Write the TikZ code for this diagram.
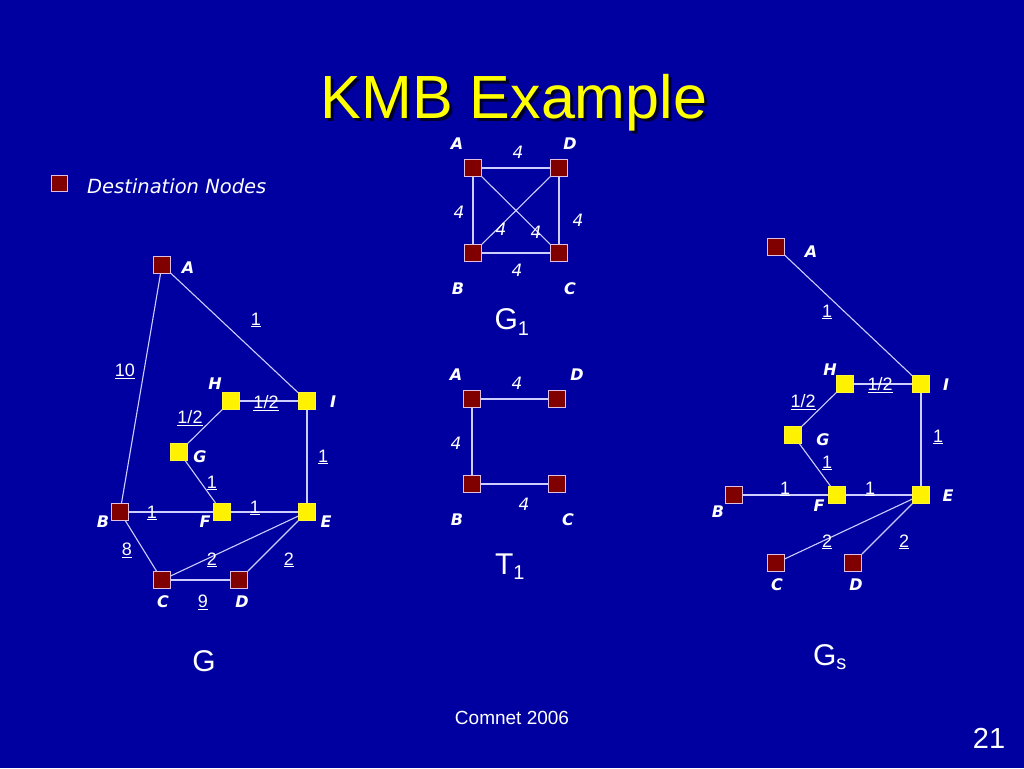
\documentclass[tikz,border=0pt]{standalone}
\usepackage{fontspec}
\setmainfont{Liberation Sans}
\newfontfamily\tahomalike{DejaVu Sans}
\begin{document}
\begin{tikzpicture}[x=1pt,y=-1pt,
  dest/.style={rectangle,fill=destred,draw=destborder,line width=0.8pt,minimum size=17pt,inner sep=0pt},
  stein/.style={rectangle,fill=yellow,draw=yellow!80!white,line width=0.5pt,minimum size=17pt,inner sep=0pt},
  link/.style={draw=edgecol,line width=1.1pt},
  nlab/.style={text=white,font=\tahomalike\fontsize{16}{16}\selectfont\bfseries\itshape,inner sep=0pt},
  wlab/.style={text=white,font=\fontsize{18}{18}\selectfont,inner sep=0pt},
  ilab/.style={text=white,font=\tahomalike\fontsize{17}{17}\selectfont\itshape,inner sep=0pt},
  glab/.style={text=white,font=\fontsize{30}{30}\selectfont,inner sep=0pt}]
\definecolor{bg}{RGB}{0,0,160}
\definecolor{destred}{RGB}{128,0,0}
\definecolor{destborder}{RGB}{225,190,225}
\definecolor{edgecol}{RGB}{205,205,255}
\definecolor{titley}{RGB}{255,255,0}
\fill[bg] (0,0) rectangle (1024,768);
\useasboundingbox (0,0) rectangle (1024,768);

% title
\node[text=black!70!bg,font=\fontsize{61}{61}\selectfont,anchor=base,inner sep=0pt] (tshadow) at (517,121) {KMB Example};
\node[text=titley,font=\fontsize{61}{61}\selectfont,anchor=base,inner sep=0pt] (title) at (514,118) {KMB Example};

% legend
\node[dest,minimum size=16pt] (legsq) at (59,183) {};
\node[text=white,font=\tahomalike\fontsize{19.5}{19.5}\selectfont\itshape,anchor=base west,inner sep=0pt] (legtext) at (87,193) {Destination Nodes};

% ---------- Graph G ----------
\node[dest] (gA) at (162,265) {};
\node[stein] (gH) at (231,401) {};
\node[stein] (gI) at (307,401) {};
\node[stein] (gG) at (179,452) {};
\node[dest] (gB) at (120,512) {};
\node[stein] (gF) at (222,512) {};
\node[stein] (gE) at (307,512) {};
\node[dest] (gC) at (162,580) {};
\node[dest] (gD) at (239,580) {};
\draw[link] (gA) -- (gB);
\draw[link] (gA) -- (gI);
\draw[link] (gH) -- (gI);
\draw[link] (gH) -- (gG);
\draw[link] (gG) -- (gF);
\draw[link] (gB) -- (gF);
\draw[link] (gF) -- (gE);
\draw[link] (gI) -- (gE);
\draw[link] (gB) -- (gC);
\draw[link] (gC) -- (gE);
\draw[link] (gE) -- (gD);
\draw[link] (gC) -- (gD);
\node[nlab] (gAl) at (188,268) {A};
\node[nlab] (gHl) at (215,384) {H};
\node[nlab] (gIl) at (333,402) {I};
\node[nlab] (gGl) at (200,457) {G};
\node[nlab] (gBl) at (103,522) {B};
\node[nlab] (gFl) at (205,522) {F};
\node[nlab] (gEl) at (326,522) {E};
\node[nlab] (gCl) at (163,602) {C};
\node[nlab] (gDl) at (242,602) {D};
\node[wlab] (g10) at (125,371) {\underline{10}};
\node[wlab] (gAI) at (256,320) {\underline{1}};
\node[wlab] (gHI) at (266,403) {\underline{1/2}};
\node[wlab] (gHG) at (190,418) {\underline{1/2}};
\node[wlab] (gGF) at (212,483) {\underline{1}};
\node[wlab] (gBF) at (152,513) {\underline{1}};
\node[wlab] (gFE) at (255,508) {\underline{1}};
\node[wlab] (gIE) at (323,457) {\underline{1}};
\node[wlab] (gBC) at (127,550) {\underline{8}};
\node[wlab] (gCE) at (212,560) {\underline{2}};
\node[wlab] (gED) at (289,560) {\underline{2}};
\node[wlab] (gCD) at (203,602) {\underline{9}};
\node[glab] (gname) at (204,661) {G};

% ---------- G1 ----------
\node[dest] (aA) at (473,168) {};
\node[dest] (aD) at (559,168) {};
\node[dest] (aB) at (473,253) {};
\node[dest] (aC) at (559,253) {};
\draw[link] (aA) -- (aD);
\draw[link] (aA) -- (aB);
\draw[link] (aD) -- (aC);
\draw[link] (aB) -- (aC);
\draw[link] (aA) -- (aC);
\draw[link] (aD) -- (aB);
\node[nlab] (aAl) at (457,144) {A};
\node[nlab] (aDl) at (570,144) {D};
\node[nlab] (aBl) at (458,289) {B};
\node[nlab] (aCl) at (570,289) {C};
\node[ilab] (aAD) at (518,152) {4};
\node[ilab] (aAB) at (459,212) {4};
\node[ilab] (aDC) at (578,220) {4};
\node[ilab] (aBC) at (517,270) {4};
\node[ilab] (aDB) at (501,229) {4};
\node[ilab] (aAC) at (536,232) {4};
\node[glab] (aname) at (512,322) {G\textsubscript{\fontsize{20}{20}\selectfont 1}};

% ---------- T1 ----------
\node[dest] (tA) at (472,399) {};
\node[dest] (tD) at (557,399) {};
\node[dest] (tB) at (472,484) {};
\node[dest] (tC) at (557,484) {};
\draw[link] (tA) -- (tD);
\draw[link] (tA) -- (tB);
\draw[link] (tB) -- (tC);
\node[nlab] (tAl) at (456,375) {A};
\node[nlab] (tDl) at (577,375) {D};
\node[nlab] (tBl) at (457,520) {B};
\node[nlab] (tCl) at (568,520) {C};
\node[ilab] (tAD) at (517,383) {4};
\node[ilab] (tAB) at (456,443) {4};
\node[ilab] (tBC) at (524,504) {4};
\node[glab] (tname) at (510,567) {T\textsubscript{\fontsize{20}{20}\selectfont 1}};

% ---------- Gs ----------
\node[dest] (sA) at (776,247) {};
\node[stein] (sH) at (845,384) {};
\node[stein] (sI) at (921,384) {};
\node[stein] (sG) at (793,435) {};
\node[dest] (sB) at (734,495) {};
\node[stein] (sF) at (837,495) {};
\node[stein] (sE) at (921,495) {};
\node[dest] (sC) at (776,563) {};
\node[dest] (sD) at (853,563) {};
\draw[link] (sA) -- (sI);
\draw[link] (sH) -- (sI);
\draw[link] (sH) -- (sG);
\draw[link] (sI) -- (sE);
\draw[link] (sG) -- (sF);
\draw[link] (sB) -- (sF);
\draw[link] (sF) -- (sE);
\draw[link] (sE) -- (sC);
\draw[link] (sE) -- (sD);
\node[nlab] (sAl) at (811,252) {A};
\node[nlab] (sHl) at (830,370) {H};
\node[nlab] (sIl) at (946,385) {I};
\node[nlab] (sGl) at (823,440) {G};
\node[nlab] (sBl) at (718,512) {B};
\node[nlab] (sFl) at (819,506) {F};
\node[nlab] (sEl) at (948,496) {E};
\node[nlab] (sCl) at (777,585) {C};
\node[nlab] (sDl) at (856,585) {D};
\node[wlab] (sAI) at (827,312) {\underline{1}};
\node[wlab] (sHI) at (880,385) {\underline{1/2}};
\node[wlab] (sHG) at (803,402) {\underline{1/2}};
\node[wlab] (sIE) at (938,437) {\underline{1}};
\node[wlab] (sGF) at (827,463) {\underline{1}};
\node[wlab] (sBF) at (785,489) {\underline{1}};
\node[wlab] (sFE) at (870,489) {\underline{1}};
\node[wlab] (sEC) at (827,542) {\underline{2}};
\node[wlab] (sED) at (904,542) {\underline{2}};
\node[glab] (sname) at (830,657) {G\textsubscript{\fontsize{20}{20}\selectfont s}};

% footer
\node[text=white,font=\fontsize{19}{19}\selectfont] (foot) at (512,718) {Comnet 2006};
\node[text=white,font=\fontsize{29}{29}\selectfont] (pnum) at (989,738) {21};
\end{tikzpicture}
\end{document}
